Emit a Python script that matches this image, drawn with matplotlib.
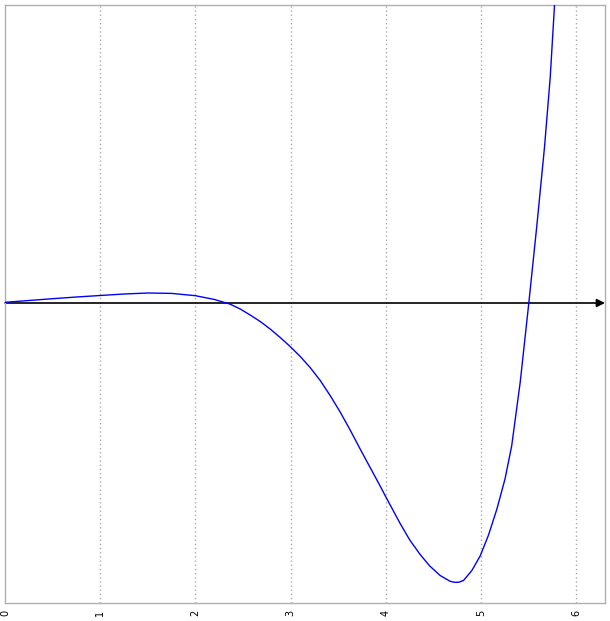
import matplotlib
matplotlib.use('Agg')
import matplotlib.pyplot as plt

# curve values (arbitrary y units)
xs = [0.0, 0.25, 0.5, 0.75, 1.0, 1.25, 1.5, 1.75, 2.0, 2.2, 2.36, 2.47,
      2.574, 2.68, 2.784, 2.89, 2.994, 3.1, 3.204, 3.31, 3.414, 3.519,
      3.624, 3.729, 3.834, 3.939, 4.002, 4.149, 4.25, 4.359, 4.46, 4.569,
      4.674, 4.72, 4.762, 4.814, 4.902, 4.989, 5.077, 5.165, 5.25, 5.32,
      5.41, 5.5, 5.585, 5.665, 5.725, 5.77, 5.8]
ys = [0.7, 2.5, 4.3, 6.0, 7.5, 9.0, 10.0, 9.6, 7.3, 3.5, -1, -6,
      -12, -18.5, -26, -34.5, -43.5, -53.5, -64.5, -77.5, -92.5, -109,
      -127, -146, -164.5, -183, -194.5, -220.5, -237, -251.5, -263, -272.5,
      -278.3, -279.3, -279.3, -277.5, -267.5, -253, -232, -206, -176, -143,
      -79, 0, 78, 156, 226, 298, 345]
grid_x = [1, 2, 3, 4, 5, 6]
tick_labels = ['0', '1', '2', '3', '4', '5', '6']

fig = plt.figure(figsize=(6.1, 6.21), dpi=100)
ax = fig.add_axes([5/610, 18/621, 600/610, 598/621])

x_max = 6.3
ax.set_xlim(0, x_max)
ax.set_ylim(-300, 298)

for g in grid_x:
    ax.axvline(g, color='#aaaaaa', lw=1, ls=(0, (1, 2)), zorder=1)

ax.plot(xs, ys, color='#0000ff', lw=1, zorder=3)

ax.annotate('', xy=(x_max, 0), xytext=(0, 0),
            arrowprops=dict(arrowstyle='-|>', color='black', lw=1.2,
                            mutation_scale=12, shrinkA=0, shrinkB=0),
            zorder=2)

ax.set_yticks([])
ax.set_xticks(range(len(tick_labels)))
ax.set_xticklabels(tick_labels, rotation=90, fontsize=7)
ax.tick_params(axis='x', length=0, pad=5)

for s in ax.spines.values():
    s.set_color('#b0b0b0')
    s.set_linewidth(1)

fig.savefig('out.png', dpi=100)
